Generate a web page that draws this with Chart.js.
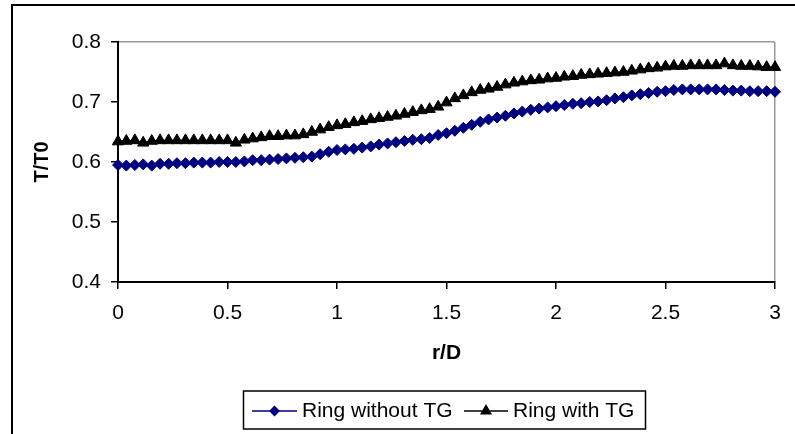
<!DOCTYPE html>
<html>
<head>
<meta charset="utf-8">
<script src="https://cdn.jsdelivr.net/npm/chart.js@4.4.1/dist/chart.umd.min.js"></script>
<style>
  html, body { margin: 0; padding: 0; background: #fff; }
</style>
</head>
<body>
<canvas id="myChart" width="795" height="434"></canvas>
<script>
// r/D positions of the measurement points
const rD = [
  0, 0.038, 0.077, 0.115, 0.154, 0.192, 0.231, 0.269, 0.308, 0.346,
  0.385, 0.423, 0.462, 0.5, 0.538, 0.577, 0.615, 0.654, 0.692, 0.731,
  0.769, 0.808, 0.846, 0.885, 0.923, 0.962, 1.0, 1.038, 1.077, 1.115,
  1.154, 1.192, 1.231, 1.269, 1.308, 1.346, 1.385, 1.423, 1.462, 1.5,
  1.538, 1.577, 1.615, 1.654, 1.692, 1.731, 1.769, 1.808, 1.846, 1.885,
  1.923, 1.962, 2.0, 2.038, 2.077, 2.115, 2.154, 2.192, 2.231, 2.269,
  2.308, 2.346, 2.385, 2.423, 2.462, 2.5, 2.538, 2.577, 2.615, 2.654,
  2.692, 2.731, 2.769, 2.808, 2.846, 2.885, 2.923, 2.962, 3.0
];

// T/T0 - Ring without TG
const ringWithoutTG = [
  0.595, 0.594, 0.595, 0.596, 0.594, 0.597, 0.597, 0.598, 0.598, 0.599,
  0.599, 0.599, 0.600, 0.600, 0.600, 0.601, 0.603, 0.603, 0.604, 0.605,
  0.606, 0.607, 0.608, 0.609, 0.613, 0.617, 0.620, 0.621, 0.622, 0.624,
  0.626, 0.629, 0.631, 0.633, 0.635, 0.637, 0.638, 0.640, 0.645, 0.648,
  0.652, 0.657, 0.662, 0.667, 0.671, 0.674, 0.677, 0.681, 0.684, 0.687,
  0.689, 0.691, 0.693, 0.695, 0.697, 0.698, 0.700, 0.701, 0.703, 0.706,
  0.708, 0.711, 0.713, 0.715, 0.717, 0.718, 0.720, 0.721, 0.721, 0.721,
  0.721, 0.721, 0.720, 0.719, 0.719, 0.718, 0.718, 0.718, 0.717
];

// T/T0 - Ring with TG
const ringWithTG = [
  0.634, 0.635, 0.636, 0.632, 0.635, 0.636, 0.636, 0.636, 0.636, 0.636,
  0.636, 0.636, 0.636, 0.636, 0.632, 0.637, 0.639, 0.641, 0.643, 0.643,
  0.644, 0.644, 0.646, 0.650, 0.654, 0.658, 0.661, 0.663, 0.666, 0.668,
  0.671, 0.673, 0.675, 0.677, 0.680, 0.683, 0.686, 0.688, 0.692, 0.699,
  0.706, 0.711, 0.716, 0.720, 0.722, 0.725, 0.729, 0.732, 0.734, 0.736,
  0.737, 0.739, 0.740, 0.742, 0.743, 0.745, 0.746, 0.747, 0.748, 0.749,
  0.750, 0.752, 0.754, 0.756, 0.757, 0.759, 0.760, 0.760, 0.761, 0.761,
  0.761, 0.761, 0.764, 0.761, 0.760, 0.760, 0.759, 0.758, 0.758
];

const seriesNames = ['Ring without TG', 'Ring with TG'];
const xTicks = [0, 0.5, 1, 1.5, 2, 2.5, 3];
const yTicks = [0.4, 0.5, 0.6, 0.7, 0.8];

const FONT = '"Liberation Sans", Arial, sans-serif';
Chart.defaults.font.family = FONT;
Chart.defaults.color = '#000';

const toPoints = (ys) => ys.map((y, i) => ({x: rD[i], y: y}));

// marker shapes for the hand drawn legend
function drawMarker(ctx, style, x, y, r, color) {
  ctx.fillStyle = color;
  ctx.beginPath();
  if (style === 'rectRot') {
    ctx.moveTo(x - r, y); ctx.lineTo(x, y - r); ctx.lineTo(x + r, y); ctx.lineTo(x, y + r);
  } else {
    ctx.moveTo(x, y - r);
    ctx.lineTo(x + r * 0.866, y + r / 2);
    ctx.lineTo(x - r * 0.866, y + r / 2);
  }
  ctx.closePath();
  ctx.fill();
}

// outer frame + boxed legend like the Excel original
const frameAndLegend = {
  id: 'frameAndLegend',
  afterDraw(chart) {
    const ctx = chart.ctx;
    ctx.save();
    ctx.strokeStyle = '#000';
    ctx.lineWidth = 2;
    ctx.beginPath();
    ctx.moveTo(12, 434); ctx.lineTo(12, 5); ctx.lineTo(795, 5);
    ctx.stroke();

    ctx.lineWidth = 1.5;
    ctx.strokeRect(243.5, 391, 402, 38);

    const items = [
      {x0: 252, x1: 297, text: seriesNames[0], color: '#000080', style: 'rectRot', r: 5.5},
      {x0: 464, x1: 508, text: seriesNames[1], color: '#000', style: 'triangle', r: 7}
    ];
    const y = 411;
    ctx.font = '21px ' + FONT;
    ctx.textBaseline = 'middle';
    ctx.textAlign = 'left';
    items.forEach(it => {
      ctx.strokeStyle = it.color;
      ctx.lineWidth = 1.5;
      ctx.beginPath(); ctx.moveTo(it.x0, y); ctx.lineTo(it.x1, y); ctx.stroke();
      drawMarker(ctx, it.style, (it.x0 + it.x1) / 2, y, it.r, it.color);
      ctx.fillStyle = '#000';
      ctx.fillText(it.text, it.x1 + 5, y);
    });
    ctx.restore();
  }
};

const data = {
  datasets: [{
    label: seriesNames[0],
    data: toPoints(ringWithoutTG),
    borderColor: '#000080',
    backgroundColor: '#000080',
    borderWidth: 1.5,
    pointStyle: 'rectRot',
    pointRadius: 5.5,
    pointBorderWidth: 1,
    clip: false
  }, {
    label: seriesNames[1],
    data: toPoints(ringWithTG),
    borderColor: '#000',
    backgroundColor: '#000',
    borderWidth: 1.5,
    pointStyle: 'triangle',
    pointRadius: 6.5,
    pointBorderWidth: 1,
    clip: false
  }]
};

const config = {
  type: 'line',
  data,
  options: {
    responsive: false,
    animation: false,
    devicePixelRatio: 1,
    layout: { padding: { top: 42, right: 20, bottom: 0, left: 0 } },
    plugins: {
      legend: { display: false },
      tooltip: { enabled: false }
    },
    scales: {
      x: {
        type: 'linear',
        min: 0,
        max: 3,
        afterFit: s => { s.height = 152; },
        afterBuildTicks: s => { s.ticks = xTicks.map(v => ({value: v})); },
        ticks: {
          font: { size: 21 },
          padding: 12,
          maxRotation: 0,
          callback: v => String(v)
        },
        grid: {
          color: c => (c.tick && c.tick.value === 3) ? '#999' : 'rgba(0,0,0,0)',
          tickColor: '#000',
          tickLength: 7,
          tickWidth: 1.5,
          lineWidth: 1.5
        },
        border: { color: '#000', width: 2 },
        title: {
          display: true,
          text: 'r/D',
          font: { size: 21, weight: 'bold' },
          padding: { top: 0, bottom: 68 }
        }
      },
      y: {
        min: 0.4,
        max: 0.8,
        afterFit: s => { s.width = 118; },
        afterBuildTicks: s => { s.ticks = yTicks.map(v => ({value: v})); },
        ticks: {
          font: { size: 21 },
          padding: 10,
          callback: v => v.toFixed(1)
        },
        grid: {
          color: c => (c.tick && c.tick.value === 0.8) ? '#999' : 'rgba(0,0,0,0)',
          tickColor: '#000',
          tickLength: 7,
          tickWidth: 1.5,
          lineWidth: 1.5
        },
        border: { color: '#000', width: 2 },
        title: {
          display: true,
          text: 'T/T0',
          font: { size: 20, weight: 'bold' },
          padding: { top: 30, bottom: 0 }
        }
      }
    }
  },
  plugins: [frameAndLegend]
};

const myChart = new Chart(document.getElementById('myChart'), config);
</script>
</body>
</html>
